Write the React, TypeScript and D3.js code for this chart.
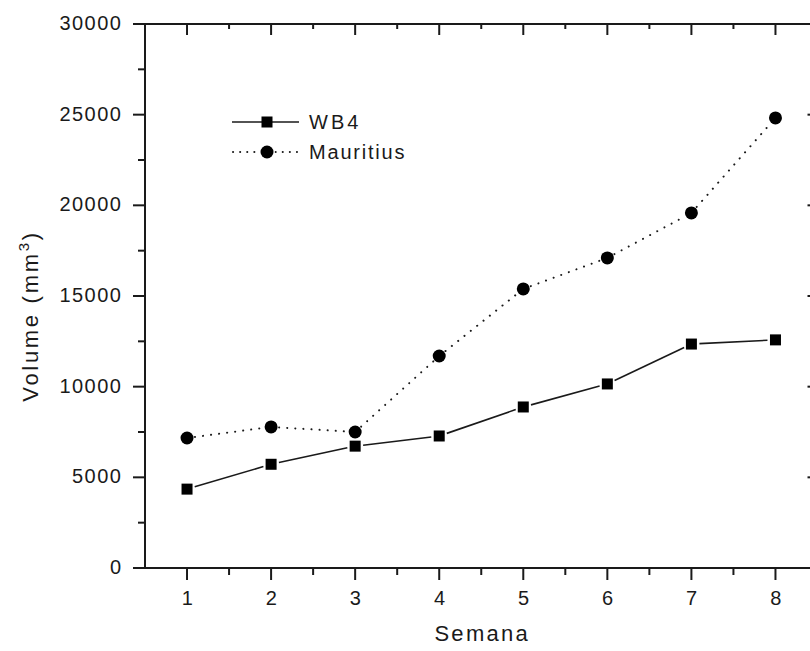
import React, { useEffect, useRef } from 'react';
import * as d3 from 'd3';

const semanas = [1, 2, 3, 4, 5, 6, 7, 8];
const wb4 = [4350, 5720, 6720, 7280, 8880, 10150, 12350, 12580];
const mauritius = [7170, 7780, 7500, 11690, 15390, 17100, 19580, 24820];
const yTicks = [0, 5000, 10000, 15000, 20000, 25000, 30000];

const FONT = '"Liberation Sans", Arial, sans-serif';

const App = () => {
  const ref = useRef<SVGSVGElement | null>(null);

  useEffect(() => {
    if (!ref.current) return;
    const svg = d3.select(ref.current);
    svg.selectAll('*').remove();

    const left = 145, right = 817.5, top = 24, bottom = 568;
    const x = d3.scaleLinear().domain([0.5, 8.5]).range([left, right]);
    const y = d3.scaleLinear().domain([0, 30000]).range([bottom, top]);
    const ink = '#1a1a1a';

    const minorY = d3.range(2500, 30000, 5000);
    const minorX = d3.range(1.5, 8.5, 1);

    // frame
    const axes = svg.append('g').attr('stroke', ink).attr('stroke-width', 2).attr('fill', 'none');
    axes.append('line').attr('x1', left).attr('x2', left).attr('y1', top).attr('y2', bottom + 1);
    axes.append('line').attr('x1', left - 1).attr('x2', right).attr('y1', bottom).attr('y2', bottom);
    axes.append('line').attr('x1', left - 12).attr('x2', right).attr('y1', top).attr('y2', top);
    axes.append('line').attr('x1', right).attr('x2', right).attr('y1', top).attr('y2', bottom);

    // left ticks
    axes.selectAll('.ly').data(yTicks).enter().append('line')
      .attr('x1', left - 12).attr('x2', left).attr('y1', d => y(d)).attr('y2', d => y(d));
    axes.selectAll('.lym').data(minorY).enter().append('line')
      .attr('x1', left - 7).attr('x2', left).attr('y1', d => y(d)).attr('y2', d => y(d));
    // right ticks (inward)
    axes.selectAll('.ry').data(yTicks).enter().append('line')
      .attr('x1', right - 10).attr('x2', right).attr('y1', d => y(d)).attr('y2', d => y(d));
    // bottom ticks
    axes.selectAll('.bx').data(semanas).enter().append('line')
      .attr('x1', d => x(d)).attr('x2', d => x(d)).attr('y1', bottom).attr('y2', bottom + 12);
    axes.selectAll('.bxm').data(minorX).enter().append('line')
      .attr('x1', d => x(d)).attr('x2', d => x(d)).attr('y1', bottom).attr('y2', bottom + 7);
    // top ticks (inward)
    axes.selectAll('.tx').data(semanas).enter().append('line')
      .attr('x1', d => x(d)).attr('x2', d => x(d)).attr('y1', top).attr('y2', top + 11);
    axes.selectAll('.txm').data(minorX).enter().append('line')
      .attr('x1', d => x(d)).attr('x2', d => x(d)).attr('y1', top).attr('y2', top + 5);

    const labels = svg.append('g').attr('font-family', FONT).attr('font-size', 20)
      .attr('fill', ink).attr('letter-spacing', 1.5);
    labels.selectAll('.yl').data(yTicks).enter().append('text')
      .attr('x', left - 22.5).attr('y', d => y(d) + 6).attr('text-anchor', 'end')
      .text(d => String(d));
    labels.selectAll('.xl').data(semanas).enter().append('text')
      .attr('x', d => x(d) + 1).attr('y', 605).attr('text-anchor', 'middle')
      .text(d => String(d));

    // titles
    svg.append('text')
      .attr('x', (left + right) / 2 + 1).attr('y', 641).attr('text-anchor', 'middle')
      .attr('font-family', FONT).attr('font-size', 22).attr('letter-spacing', 2.3)
      .attr('fill', ink).text('Semana');
    const yt = svg.append('text')
      .attr('transform', 'translate(38,316) rotate(-90)').attr('text-anchor', 'middle')
      .attr('font-family', FONT).attr('font-size', 22).attr('letter-spacing', 2.7)
      .attr('fill', ink);
    yt.append('tspan').text('Volume (mm');
    yt.append('tspan').attr('font-size', 15).attr('dy', -9).text('3');
    yt.append('tspan').attr('dy', 9).text(')');

    // series with gaps at the markers
    const gap = 8;
    const drawSeries = (vals: number[], dash: string | null) => {
      const pts = semanas.map((s, i) => [x(s), y(vals[i])]);
      const g = svg.append('g').attr('stroke', ink).attr('stroke-width', dash ? 2 : 1.6)
        .attr('fill', 'none').attr('stroke-linecap', dash ? 'round' : 'butt');
      for (let i = 0; i < pts.length - 1; i++) {
        const [x1, y1] = pts[i], [x2, y2] = pts[i + 1];
        const len = Math.hypot(x2 - x1, y2 - y1);
        if (len <= 2 * gap) continue;
        const ux = (x2 - x1) / len, uy = (y2 - y1) / len;
        const l = g.append('line')
          .attr('x1', x1 + ux * gap).attr('y1', y1 + uy * gap)
          .attr('x2', x2 - ux * gap).attr('y2', y2 - uy * gap);
        if (dash) l.attr('stroke-dasharray', dash);
      }
      return pts;
    };
    const sqPts = drawSeries(wb4, null);
    const ciPts = drawSeries(mauritius, '0.1 8');

    const sq = 11;
    svg.append('g').selectAll('rect').data(sqPts).enter().append('rect')
      .attr('x', d => d[0] - sq / 2).attr('y', d => d[1] - sq / 2)
      .attr('width', sq).attr('height', sq).attr('fill', '#000');
    svg.append('g').selectAll('circle').data(ciPts).enter().append('circle')
      .attr('cx', d => d[0]).attr('cy', d => d[1]).attr('r', 6.5).attr('fill', '#000');

    // legend
    const lg = svg.append('g');
    lg.append('line').attr('x1', 232).attr('x2', 299).attr('y1', 122).attr('y2', 122)
      .attr('stroke', ink).attr('stroke-width', 1.6);
    lg.append('rect').attr('x', 267 - sq / 2).attr('y', 122 - sq / 2)
      .attr('width', sq).attr('height', sq).attr('fill', '#000');
    lg.append('line').attr('x1', 233).attr('x2', 300).attr('y1', 152).attr('y2', 152)
      .attr('stroke', ink).attr('stroke-width', 2).attr('stroke-linecap', 'round')
      .attr('stroke-dasharray', '0.1 7');
    lg.append('circle').attr('cx', 267).attr('cy', 152).attr('r', 7.5).attr('fill', '#fff');
    lg.append('circle').attr('cx', 267).attr('cy', 152).attr('r', 6.5).attr('fill', '#000');
    lg.append('text').attr('x', 309).attr('y', 129).attr('font-family', FONT)
      .attr('font-size', 20).attr('letter-spacing', 3).attr('fill', ink).text('WB4');
    lg.append('text').attr('x', 309).attr('y', 159).attr('font-family', FONT)
      .attr('font-size', 20).attr('letter-spacing', 1.8).attr('fill', ink).text('Mauritius');
  }, []);

  return (
    <svg
      ref={ref}
      width={810}
      height={651}
      style={{ position: 'absolute', left: 0, top: 0, background: '#fff' }}
    />
  );
};

export default App;
